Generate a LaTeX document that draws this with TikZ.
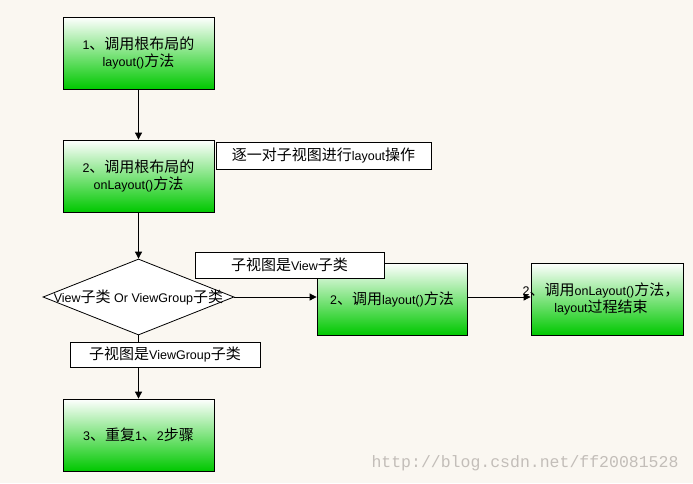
\documentclass[tikz,border=0pt]{standalone}
\usepackage{fontspec}
\setmainfont{Liberation Sans}
\newfontfamily\cjk{Noto Sans CJK SC}
\newfontfamily\wmfont{Liberation Mono}
\usetikzlibrary{shapes.geometric,arrows.meta}
\definecolor{bg}{RGB}{250,247,241}
\definecolor{grn}{RGB}{0,200,0}
\definecolor{wmc}{RGB}{195,190,185}
\newcommand{\zh}[1]{{\cjk\fontsize{15}{17}\selectfont #1}}
\tikzset{
  stepbox/.style={draw=black, line width=0.8pt, top color=white, bottom color=grn,
    minimum width=151pt, minimum height=72pt, inner sep=0pt, align=center,
    font=\fontsize{12.5}{17}\selectfont},
  notebox/.style={draw=black, line width=0.8pt, fill=white, inner sep=0pt,
    font=\fontsize{12.5}{17}\selectfont},
  arr/.style={draw=black, line width=0.8pt, -{Triangle[length=7pt,width=7pt]}},
}
\begin{document}
\begin{tikzpicture}[x=1pt,y=-1pt]
\fill[bg] (0,0) rectangle (693,483);
\useasboundingbox (0,0) rectangle (693,483);

\node[stepbox] (b1) at (138.5,53) {1\zh{、调用根布局的}\\layout()\zh{方法}};
\node[stepbox] (b2) at (138.5,176) {2\zh{、调用根布局的}\\onLayout()\zh{方法}};
\node[draw=black, line width=0.8pt, fill=white, diamond, minimum width=191pt,
  minimum height=76pt, inner sep=0pt] (d) at (138.5,297) {};
\node[font=\fontsize{12.5}{17}\selectfont, inner sep=0pt] (dt) at (d.center) {View\zh{子类} Or ViewGroup\zh{子类}};
\node[stepbox, minimum width=150pt] (bl) at (392,299) {2\zh{、调用}layout()\zh{方法}};
\node[stepbox, minimum width=152pt] (br) at (607,299) {};
\node[font=\fontsize{12.5}{17}\selectfont, inner sep=0pt, align=center] (brt) at (601,299) {2\zh{、}\zh{调用}onLayout()\zh{方法，}\\layout\zh{过程结束}};
\node[stepbox] (b3) at (138.5,435) {3\zh{、重复}1\zh{、}2\zh{步骤}};

\draw[arr] (b1) -- (b2);
\draw[arr] (b2) -- (d.north);
\draw[arr] (d.south) -- (b3);
\draw[arr] (d.east) -- (d.east -| bl.west);
\draw[arr] (d.east -| bl.east) -- (d.east -| br.west);

\node[notebox, minimum width=215pt, minimum height=27pt] (n1) at (323.5,155.5) {\zh{逐一对子视图进行}layout\zh{操作}};
\node[notebox, minimum width=189pt, minimum height=26pt] (n2) at (289.5,265) {\zh{子视图是}View\zh{子类}};
\node[notebox, minimum width=190pt, minimum height=25pt] (n3) at (165,354.5) {\zh{子视图是}ViewGroup\zh{子类}};

\node[text=wmc, font=\wmfont\fontsize{16.5}{18}\selectfont, inner sep=0pt] (wm) at (525,463) {http://blog.csdn.net/ff20081528};
\end{tikzpicture}
\end{document}
